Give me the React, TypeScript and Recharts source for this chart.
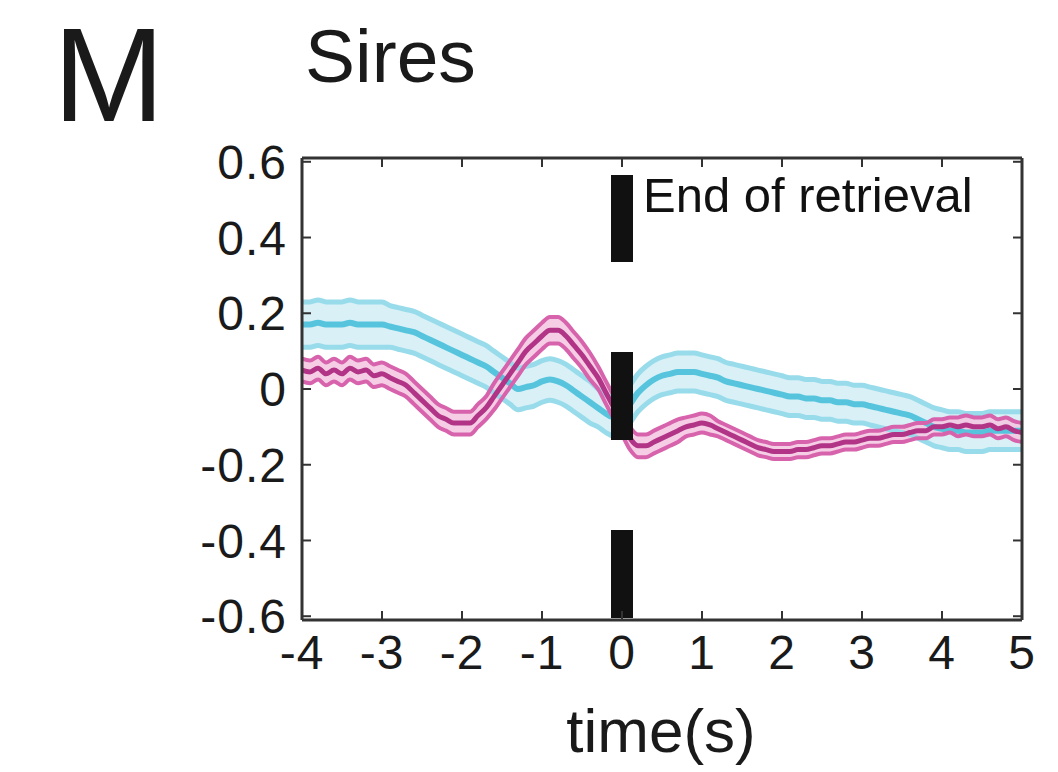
import { ComposedChart, Line, Area, XAxis, YAxis, ReferenceLine } from "recharts";

const time = [
  -4, -3.9, -3.8, -3.7, -3.6, -3.5, -3.4, -3.3, -3.2, -3.1,
  -3, -2.9, -2.8, -2.7, -2.6, -2.5, -2.4, -2.3, -2.2, -2.1,
  -2, -1.9, -1.8, -1.7, -1.6, -1.5, -1.4, -1.3, -1.2, -1.1,
  -1, -0.9, -0.8, -0.7, -0.6, -0.5, -0.4, -0.3, -0.2, -0.1,
  0, 0.1, 0.2, 0.3, 0.4, 0.5, 0.6, 0.7, 0.8, 0.9,
  1, 1.1, 1.2, 1.3, 1.4, 1.5, 1.6, 1.7, 1.8, 1.9,
  2, 2.1, 2.2, 2.3, 2.4, 2.5, 2.6, 2.7, 2.8, 2.9,
  3, 3.1, 3.2, 3.3, 3.4, 3.5, 3.6, 3.7, 3.8, 3.9,
  4, 4.1, 4.2, 4.3, 4.4, 4.5, 4.6, 4.7, 4.8, 4.9, 5,
];

// magenta trace (mean and sem)
const sireMean = [
  0.05, 0.045, 0.055, 0.04, 0.05, 0.04, 0.055, 0.045, 0.05, 0.035,
  0.04, 0.03, 0.02, 0.01, -0.01, -0.03, -0.05, -0.07, -0.08, -0.09,
  -0.09, -0.09, -0.07, -0.05, -0.02, 0.01, 0.04, 0.07, 0.1, 0.12,
  0.14, 0.155, 0.155, 0.14, 0.115, 0.09, 0.06, 0.03, -0.01, -0.05,
  -0.09, -0.13, -0.15, -0.15, -0.14, -0.13, -0.12, -0.11, -0.1, -0.095,
  -0.09, -0.095, -0.105, -0.115, -0.125, -0.135, -0.145, -0.155, -0.16, -0.165,
  -0.165, -0.165, -0.16, -0.16, -0.155, -0.15, -0.15, -0.145, -0.14, -0.14,
  -0.135, -0.13, -0.13, -0.125, -0.12, -0.12, -0.115, -0.11, -0.11, -0.1,
  -0.1, -0.095, -0.1, -0.095, -0.1, -0.1, -0.095, -0.105, -0.1, -0.11, -0.115,
];
const sireSem = [
  0.03, 0.03, 0.03, 0.03, 0.03, 0.03, 0.03, 0.03, 0.03, 0.03,
  0.03, 0.03, 0.03, 0.03, 0.03, 0.03, 0.03, 0.03, 0.03, 0.03,
  0.03, 0.03, 0.03, 0.03, 0.035, 0.035, 0.035, 0.035, 0.035, 0.035,
  0.035, 0.035, 0.035, 0.035, 0.035, 0.035, 0.035, 0.03, 0.03, 0.03,
  0.03, 0.03, 0.03, 0.03, 0.03, 0.03, 0.03, 0.03, 0.025, 0.025,
  0.025, 0.025, 0.02, 0.02, 0.02, 0.02, 0.02, 0.02, 0.02, 0.02,
  0.02, 0.02, 0.02, 0.02, 0.02, 0.02, 0.02, 0.02, 0.02, 0.02,
  0.02, 0.02, 0.02, 0.02, 0.02, 0.02, 0.02, 0.02, 0.02, 0.02,
  0.02, 0.02, 0.025, 0.025, 0.025, 0.025, 0.025, 0.025, 0.025, 0.025, 0.025,
];

// cyan trace (mean and sem)
const ctrlMean = [
  0.17, 0.17, 0.175, 0.17, 0.17, 0.17, 0.175, 0.17, 0.17, 0.17,
  0.17, 0.165, 0.16, 0.155, 0.15, 0.14, 0.13, 0.12, 0.11, 0.1,
  0.09, 0.08, 0.07, 0.06, 0.045, 0.03, 0.015, 0.0, 0.005, 0.01,
  0.02, 0.025, 0.02, 0.01, -0.005, -0.02, -0.035, -0.05, -0.065, -0.075,
  -0.07, -0.04, -0.01, 0.01, 0.025, 0.035, 0.04, 0.045, 0.045, 0.045,
  0.04, 0.035, 0.03, 0.02, 0.015, 0.01, 0.005, 0.0, -0.005, -0.01,
  -0.015, -0.02, -0.02, -0.025, -0.025, -0.03, -0.03, -0.035, -0.035, -0.04,
  -0.04, -0.045, -0.05, -0.055, -0.06, -0.065, -0.07, -0.08, -0.09, -0.1,
  -0.105, -0.11, -0.11, -0.115, -0.115, -0.115, -0.11, -0.11, -0.11, -0.11, -0.11,
];
const ctrlSem = [
  0.06, 0.06, 0.06, 0.06, 0.06, 0.06, 0.06, 0.06, 0.06, 0.06,
  0.06, 0.055, 0.055, 0.055, 0.055, 0.055, 0.055, 0.055, 0.055, 0.055,
  0.055, 0.055, 0.055, 0.055, 0.055, 0.055, 0.055, 0.055, 0.055, 0.055,
  0.055, 0.055, 0.055, 0.055, 0.055, 0.055, 0.055, 0.05, 0.05, 0.05,
  0.05, 0.05, 0.05, 0.05, 0.05, 0.05, 0.05, 0.05, 0.05, 0.05,
  0.05, 0.05, 0.05, 0.05, 0.05, 0.05, 0.05, 0.05, 0.05, 0.05,
  0.05, 0.05, 0.05, 0.05, 0.05, 0.05, 0.05, 0.05, 0.05, 0.05,
  0.05, 0.05, 0.05, 0.05, 0.05, 0.05, 0.05, 0.05, 0.05, 0.05,
  0.05, 0.05, 0.05, 0.05, 0.05, 0.05, 0.05, 0.05, 0.05, 0.05, 0.05,
];

const xTicks = [-4, -3, -2, -1, 0, 1, 2, 3, 4, 5];
const yTicks = [-0.6, -0.4, -0.2, 0, 0.2, 0.4, 0.6];

const FONT = "'Liberation Sans', Arial, Helvetica, sans-serif";
const MAG = "#b23487";
const MAG_LIGHT = "#d863ad";
const MAG_FILL = "#f4c9e3";
const CYAN = "#56c4dc";
const CYAN_LIGHT = "#98dbea";
const CYAN_FILL = "#d8f0f6";
const AXIS = "#333";

const rows = time.map((t, i) => ({
  t,
  sire: sireMean[i],
  sireHi: sireMean[i] + sireSem[i],
  sireLo: sireMean[i] - sireSem[i],
  sireBand: [sireMean[i] - sireSem[i], sireMean[i] + sireSem[i]],
  ctrl: ctrlMean[i],
  ctrlHi: ctrlMean[i] + ctrlSem[i],
  ctrlLo: ctrlMean[i] - ctrlSem[i],
  ctrlBand: [ctrlMean[i] - ctrlSem[i], ctrlMean[i] + ctrlSem[i]],
}));

const tickStyle = { fontSize: 48, fill: "#1a1a1a", fontFamily: FONT, letterSpacing: 1 };
const fmt = (v: number) => (v === 0 ? "0" : v.toFixed(1));
const blank = () => "";

export default function App() {
  return (
    <div
      style={{
        position: "absolute",
        left: 0,
        top: 0,
        width: 1058,
        height: 772,
        background: "#fff",
        fontFamily: FONT,
      }}
    >
      <ComposedChart
        width={1058}
        height={772}
        data={rows}
        margin={{ top: 148, right: 26, bottom: 92, left: 0 }}
      >
        <XAxis
          xAxisId="bottom"
          dataKey="t"
          type="number"
          domain={[-4, 5]}
          ticks={xTicks}
          height={60}
          axisLine={{ stroke: AXIS, strokeWidth: 3 }}
          tickLine={{ stroke: AXIS, strokeWidth: 2 }}
          tickSize={-9}
          tickMargin={24}
          tick={tickStyle}
          interval={0}
        />
        <XAxis
          xAxisId="top"
          orientation="top"
          dataKey="t"
          type="number"
          domain={[-4, 5]}
          ticks={xTicks}
          height={10}
          axisLine={{ stroke: AXIS, strokeWidth: 3 }}
          tickLine={{ stroke: AXIS, strokeWidth: 2 }}
          tickSize={-9}
          tickFormatter={blank}
          interval={0}
        />
        <YAxis
          yAxisId="left"
          type="number"
          domain={[-0.61, 0.61]}
          ticks={yTicks}
          width={302}
          allowDataOverflow
          axisLine={{ stroke: AXIS, strokeWidth: 3 }}
          tickLine={{ stroke: AXIS, strokeWidth: 2 }}
          tickSize={-9}
          tickMargin={24}
          tick={tickStyle}
          tickFormatter={fmt}
          interval={0}
        />
        <YAxis
          yAxisId="right"
          orientation="right"
          type="number"
          domain={[-0.61, 0.61]}
          ticks={yTicks}
          width={10}
          allowDataOverflow
          axisLine={{ stroke: AXIS, strokeWidth: 3 }}
          tickLine={{ stroke: AXIS, strokeWidth: 2 }}
          tickSize={-9}
          tickFormatter={blank}
          interval={0}
        />

        {/* cyan trace */}
        <Area
          xAxisId="bottom"
          yAxisId="left"
          dataKey="ctrlBand"
          type="monotone"
          stroke="none"
          fill={CYAN_FILL}
          fillOpacity={1}
          isAnimationActive={false}
        />
        <Line xAxisId="bottom" yAxisId="left" dataKey="ctrlHi" type="monotone" stroke={CYAN_LIGHT} strokeWidth={5} dot={false} isAnimationActive={false} />
        <Line xAxisId="bottom" yAxisId="left" dataKey="ctrlLo" type="monotone" stroke={CYAN_LIGHT} strokeWidth={5} dot={false} isAnimationActive={false} />
        <Line xAxisId="bottom" yAxisId="left" dataKey="ctrl" type="monotone" stroke={CYAN} strokeWidth={6} dot={false} isAnimationActive={false} />

        {/* magenta trace */}
        <Area
          xAxisId="bottom"
          yAxisId="left"
          dataKey="sireBand"
          type="monotone"
          stroke="none"
          fill={MAG_FILL}
          fillOpacity={0.9}
          isAnimationActive={false}
        />
        <Line xAxisId="bottom" yAxisId="left" dataKey="sireHi" type="monotone" stroke={MAG_LIGHT} strokeWidth={4} dot={false} isAnimationActive={false} />
        <Line xAxisId="bottom" yAxisId="left" dataKey="sireLo" type="monotone" stroke={MAG_LIGHT} strokeWidth={4} dot={false} isAnimationActive={false} />
        <Line xAxisId="bottom" yAxisId="left" dataKey="sire" type="monotone" stroke={MAG} strokeWidth={5} dot={false} isAnimationActive={false} />

        {/* end of retrieval marker (line is drawn bottom to top) */}
        <ReferenceLine
          xAxisId="bottom"
          yAxisId="left"
          x={0}
          stroke="#111"
          strokeWidth={22}
          strokeDasharray="0 2 88 90 88 90 87 17"
        />
      </ComposedChart>

      <svg
        width={1058}
        height={772}
        style={{ position: "absolute", left: 0, top: 0, pointerEvents: "none" }}
      >
        <text x={53} y={121} fontSize={134} fill="#1a1a1a" fontFamily={FONT}>
          M
        </text>
        <text x={305} y={82} fontSize={75} fill="#1a1a1a" fontFamily={FONT}>
          Sires
        </text>
        <text x={643} y={212} fontSize={49} fill="#111" fontFamily={FONT}>
          End of retrieval
        </text>
        <text x={661} y={752} fontSize={62} fill="#1a1a1a" fontFamily={FONT} textAnchor="middle">
          time(s)
        </text>
      </svg>
    </div>
  );
}
